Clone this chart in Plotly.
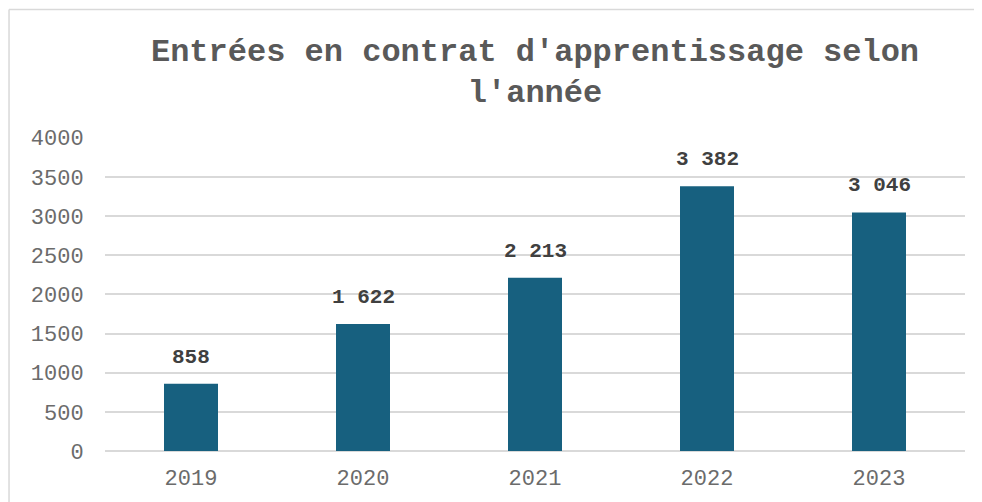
import plotly.graph_objects as go

# entrées en contrat d'apprentissage par année
annees = ["2019", "2020", "2021", "2022", "2023"]
entrees = [858, 1622, 2213, 3382, 3046]
etiquettes = ["858", "1 622", "2 213", "3 382", "3 046"]
graduations = [0, 500, 1000, 1500, 2000, 2500, 3000, 3500, 4000]

MONO = "Liberation Mono, Courier New, monospace"

fig = go.Figure(go.Bar(
    x=annees,
    y=entrees,
    marker=dict(color="#17607f", line=dict(width=0)),
    hoverinfo="x+y",
))

# étiquettes de données au-dessus des barres
# (sur un axe catégoriel "2019" serait lu comme l'indice 2019 -> on passe l'indice)
for i, (v, t) in enumerate(zip(entrees, etiquettes)):
    fig.add_annotation(x=i, y=v, xref="x", yref="y", text="<b>%s</b>" % t,
                       showarrow=False, yanchor="bottom", yshift=13,
                       font=dict(family=MONO, size=21, color="#404040"))

# cadre du graphique
fig.add_shape(type="line", xref="paper", yref="paper", x0=-0.1116, x1=1.2,
              y0=1.4058, y1=1.4058, line=dict(color="#d9d9d9", width=1.5))
fig.add_shape(type="line", xref="paper", yref="paper", x0=-0.1116, x1=-0.1116,
              y0=1.4058, y1=-0.5, line=dict(color="#d9d9d9", width=1.5))

# la page html ajoute 8px de marge au body
fig.update_layout(
    width=974, height=494,
    margin=dict(l=97, r=17, t=129, b=51),
    paper_bgcolor="white", plot_bgcolor="white",
    bargap=0.686,
    showlegend=False,
    title=dict(text="<b>Entrées en contrat d'apprentissage selon<br>l'année</b>",
               x=0.5, xref="paper", xanchor="center",
               y=0.893, yref="container", yanchor="top",
               font=dict(family=MONO, size=32, color="#595959")),
    font=dict(family=MONO),
)
fig.update_xaxes(
    type="category", categoryorder="array", categoryarray=annees,
    range=[-0.5, len(annees) - 0.5],
    automargin=False,
    showgrid=False, showline=False, zeroline=False,
    ticks="outside", ticklen=7, tickcolor="rgba(0,0,0,0)",
    tickfont=dict(family=MONO, size=22, color="#6b6b6b"),
)
fig.update_yaxes(
    range=[0, 4010], tickvals=graduations,
    automargin=False,
    showgrid=True, gridcolor="#d9d9d9", gridwidth=1.5,
    zeroline=True, zerolinecolor="#d9d9d9", zerolinewidth=1.5,
    showline=False,
    ticks="outside", ticklen=16, tickcolor="rgba(0,0,0,0)",
    tickfont=dict(family=MONO, size=22, color="#6b6b6b"),
)

fig.write_html("out.html")
